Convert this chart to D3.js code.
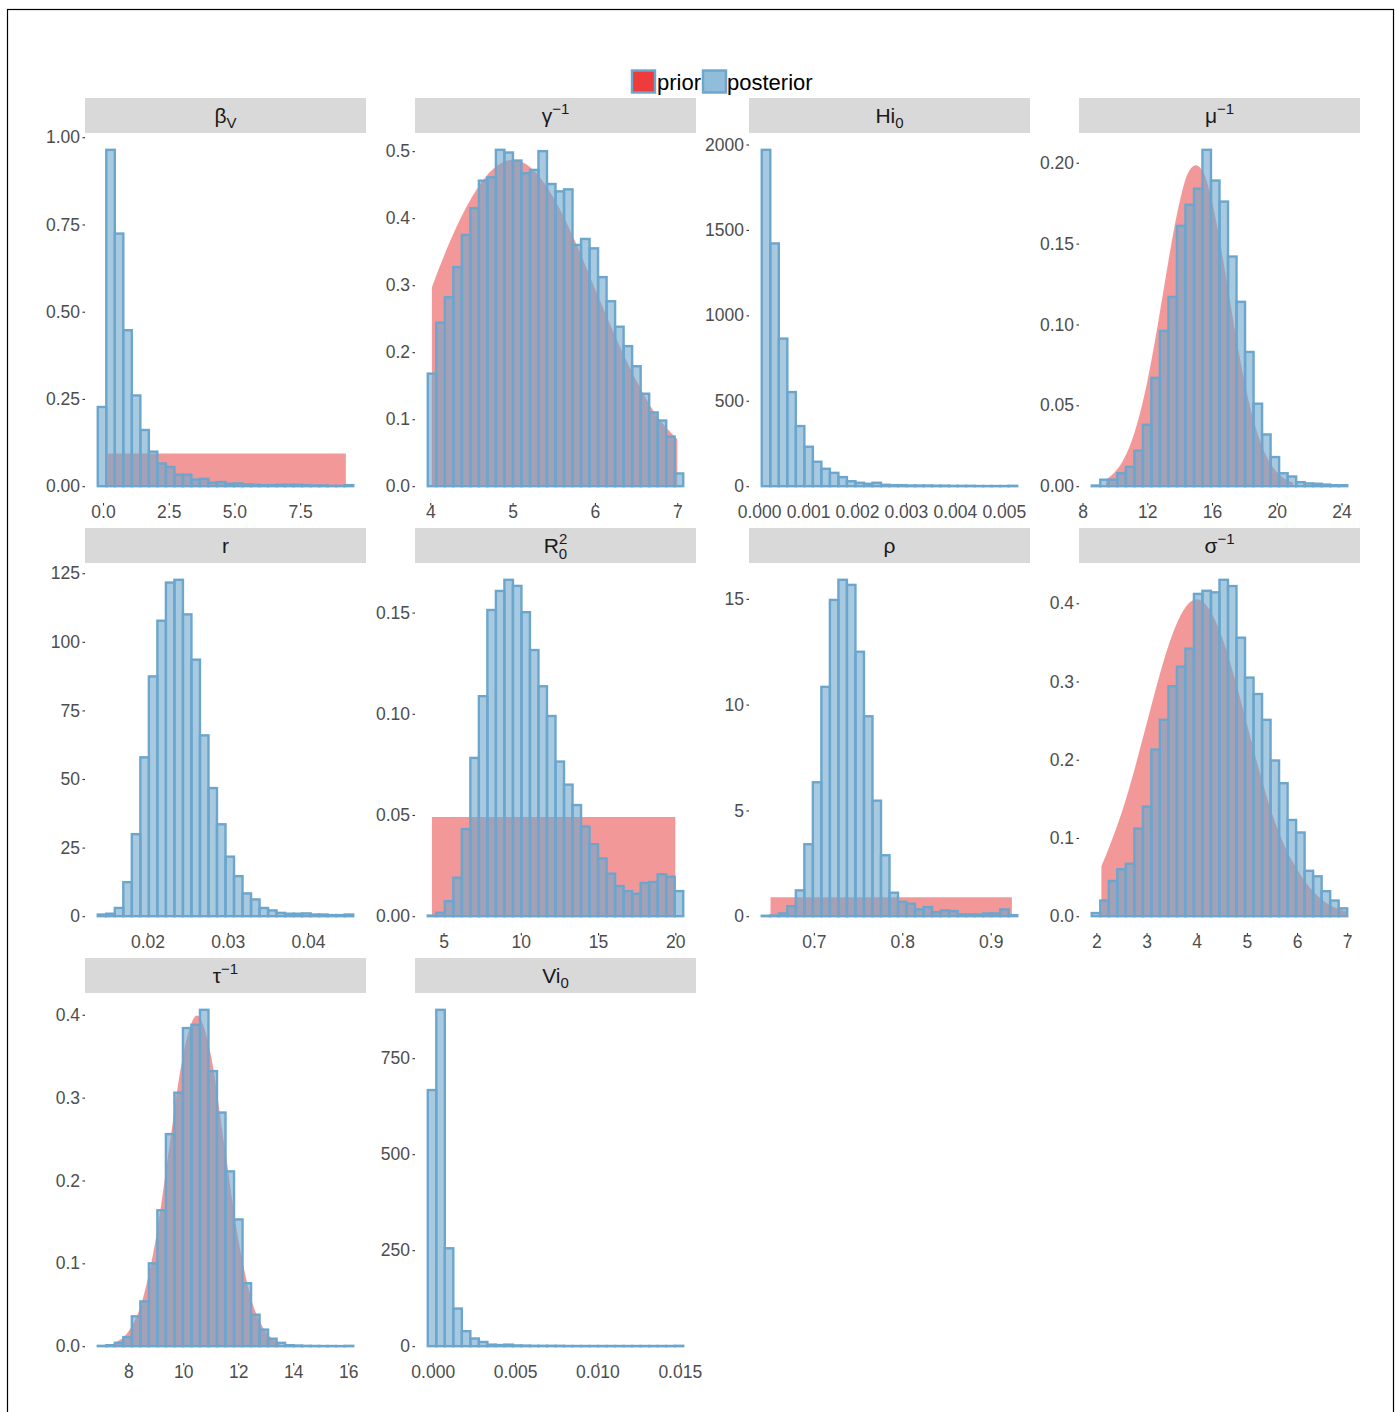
<!DOCTYPE html>
<html lang="en">
  <head>
    <meta charset="UTF-8" />
    <title>Prior vs posterior</title>
    <script src="https://d3js.org/d3.v7.min.js"></script>
    <style>
      body { margin: 0; background: #fff; }
      text { font-family: "Liberation Sans", Arial, sans-serif; }
    </style>
  </head>
  <body>
    <div id="chart"></div>

    <script>
      // ---- posterior histograms (density per bin, 30 bins each) ----
      const betaV_start = -0.2, betaV_width = 0.324;
      const betaV_bins = [0.227, 0.964, 0.724, 0.447, 0.26, 0.161, 0.099, 0.065, 0.055, 0.033,
        0.033, 0.019, 0.021, 0.01, 0.012, 0.007, 0.008, 0.005, 0.004, 0.003,
        0.003, 0.004, 0.004, 0.004, 0.003, 0.002, 0.002, 0.001, 0.001, 0.003];

      const gammaInv_start = 3.97, gammaInv_width = 0.1034;
      const gammaInv_bins = [0.168, 0.244, 0.282, 0.327, 0.375, 0.415, 0.456, 0.461, 0.502, 0.498,
        0.486, 0.467, 0.472, 0.5, 0.451, 0.44, 0.443, 0.36, 0.369, 0.355,
        0.312, 0.276, 0.238, 0.209, 0.179, 0.138, 0.11, 0.098, 0.074, 0.019];

      const Hi0_start = 0.000055, Hi0_width = 0.000174;
      const Hi0_bins = [1969, 1421, 864, 551, 352, 231, 143, 102, 78, 53,
        29, 20, 14, 20, 8, 6, 6, 4, 4, 4,
        3, 3, 2, 2, 2, 1, 1, 1, 1, 2];

      const muInv_start = 8.57, muInv_width = 0.526;
      const muInv_bins = [0.0004, 0.004, 0.004, 0.008, 0.012, 0.022, 0.038, 0.067, 0.096, 0.117,
        0.161, 0.174, 0.184, 0.208, 0.189, 0.176, 0.142, 0.114, 0.083, 0.051,
        0.032, 0.018, 0.008, 0.006, 0.0025, 0.0017, 0.0015, 0.001, 0.0006, 0.0006];

      const r_start = 0.0138, r_width = 0.001061;
      const r_bins = [0.6, 0.9, 3, 12.4, 29.9, 57.9, 87.4, 107.7, 121.6, 122.6,
        110, 93.5, 65.9, 46.7, 33.5, 21.7, 14.6, 8.3, 6.1, 3,
        2.1, 1.2, 0.9, 0.9, 1, 0.6, 0.6, 0.4, 0.4, 0.6];

      const R0sq_start = 3.98, R0sq_width = 0.551;
      const R0sq_bins = [0.0003, 0.0017, 0.0074, 0.019, 0.043, 0.0782, 0.1087, 0.1513, 0.1607, 0.1662,
        0.1632, 0.1502, 0.1315, 0.1136, 0.0989, 0.0764, 0.065, 0.0549, 0.0443, 0.0356,
        0.0285, 0.021, 0.0149, 0.0124, 0.0111, 0.0164, 0.0169, 0.0207, 0.0195, 0.0124];

      const rho_start = 0.6411, rho_width = 0.00963;
      const rho_bins = [0.02, 0.03, 0.13, 0.47, 1.22, 3.4, 6.33, 10.84, 14.95, 15.9,
        15.66, 12.5, 9.45, 5.46, 2.88, 1.11, 0.68, 0.59, 0.32, 0.43,
        0.19, 0.27, 0.24, 0.08, 0.08, 0.08, 0.13, 0.13, 0.32, 0.05];

      const sigmaInv_start = 1.908, sigmaInv_width = 0.1697;
      const sigmaInv_bins = [0.004, 0.02, 0.045, 0.06, 0.067, 0.112, 0.14, 0.213, 0.251, 0.294,
        0.319, 0.342, 0.412, 0.416, 0.414, 0.43, 0.422, 0.356, 0.305, 0.284,
        0.251, 0.199, 0.17, 0.123, 0.107, 0.058, 0.051, 0.032, 0.02, 0.01];

      const tauInv_start = 6.89, tauInv_width = 0.3097;
      const tauInv_bins = [0.0004, 0.0012, 0.004, 0.011, 0.036, 0.054, 0.1, 0.164, 0.256, 0.306,
        0.384, 0.388, 0.406, 0.332, 0.282, 0.211, 0.153, 0.076, 0.038, 0.02,
        0.009, 0.004, 0.0012, 0.0008, 0.0004, 0.0003, 0.0002, 0.0002, 0.0001, 0.0004];

      const Vi0_start = -0.0003, Vi0_width = 0.000517;
      const Vi0_bins = [667, 876, 255, 98, 39, 20, 11, 4, 3, 4,
        2, 1.5, 1, 1, 1, 1, 0.5, 0.5, 0.5, 0.5,
        0.5, 0.5, 0.5, 0.5, 0.5, 0.5, 0.5, 0.5, 0.5, 1];

      // ---- prior densities (x, density) ----
      const betaV_priorX = [0.18, 9.24];
      const betaV_priorY = [0.094, 0.094];
      const gammaInv_priorX = [4.02, 4.25, 4.5, 4.75, 5.0, 5.25, 5.5, 5.75, 6.0, 6.25, 6.5, 6.75, 7.0];
      const gammaInv_priorY = [0.297, 0.368, 0.43, 0.472, 0.487, 0.472, 0.43, 0.368, 0.295, 0.223, 0.158, 0.105, 0.07];
      const muInv_priorX = [9.45, 10, 10.5, 11, 11.5, 12, 12.5, 13, 13.5, 14, 14.5, 15, 15.5, 16, 16.5, 17, 17.5, 18, 18.5, 19, 19.5, 20, 20.5, 21];
      const muInv_priorY = [0.004, 0.0088, 0.0159, 0.027, 0.0432, 0.0648, 0.0913, 0.121, 0.1506, 0.176, 0.1933, 0.1985, 0.1933, 0.176, 0.1506, 0.121, 0.0913, 0.0648, 0.0432, 0.027, 0.0159, 0.0088, 0.0046, 0.0022];
      const R0sq_priorX = [4.25, 20.0];
      const R0sq_priorY = [0.049, 0.049];
      const rho_priorX = [0.651, 0.924];
      const rho_priorY = [0.9, 0.9];
      const sigmaInv_priorX = [2.1, 2.25, 2.5, 2.75, 3.0, 3.25, 3.5, 3.75, 4.0, 4.25, 4.5, 4.75, 5.0, 5.25, 5.5, 5.75, 6.0, 6.25, 6.5, 6.75, 7.0];
      const sigmaInv_priorY = [0.064, 0.0876, 0.1315, 0.1854, 0.2456, 0.3057, 0.3574, 0.3924, 0.405, 0.3924, 0.3574, 0.3057, 0.2456, 0.1854, 0.1315, 0.09, 0.06, 0.037, 0.021, 0.011, 0.006];
      const tauInv_priorX = [7.5, 8, 8.5, 9, 9.5, 10, 10.5, 11, 11.5, 12, 12.5, 13, 13.5];
      const tauInv_priorY = [0.0044, 0.0175, 0.054, 0.1295, 0.242, 0.352, 0.399, 0.352, 0.242, 0.1295, 0.054, 0.0175, 0.0044];

      // ---- ticks ----
      const betaV_xTicks = [0, 2.5, 5, 7.5], betaV_yTicks = [0, 0.25, 0.5, 0.75, 1];
      const gammaInv_xTicks = [4, 5, 6, 7], gammaInv_yTicks = [0, 0.1, 0.2, 0.3, 0.4, 0.5];
      const Hi0_xTicks = [0, 0.001, 0.002, 0.003, 0.004, 0.005], Hi0_yTicks = [0, 500, 1000, 1500, 2000];
      const muInv_xTicks = [8, 12, 16, 20, 24], muInv_yTicks = [0, 0.05, 0.1, 0.15, 0.2];
      const r_xTicks = [0.02, 0.03, 0.04], r_yTicks = [0, 25, 50, 75, 100, 125];
      const R0sq_xTicks = [5, 10, 15, 20], R0sq_yTicks = [0, 0.05, 0.1, 0.15];
      const rho_xTicks = [0.7, 0.8, 0.9], rho_yTicks = [0, 5, 10, 15];
      const sigmaInv_xTicks = [2, 3, 4, 5, 6, 7], sigmaInv_yTicks = [0, 0.1, 0.2, 0.3, 0.4];
      const tauInv_xTicks = [8, 10, 12, 14, 16], tauInv_yTicks = [0, 0.1, 0.2, 0.3, 0.4];
      const Vi0_xTicks = [0, 0.005, 0.01, 0.015], Vi0_yTicks = [0, 250, 500, 750];

      // strip titles: [text, "sup" | "sub" | ""]
      const titles = [
        [["β", ""], ["V", "sub"]],
        [["γ", ""], ["−1", "sup"]],
        [["Hi", ""], ["0", "sub"]],
        [["μ", ""], ["−1", "sup"]],
        [["r", ""]],
        [["R", ""], ["2", "sup"], ["0", "subback"]],
        [["ρ", ""]],
        [["σ", ""], ["−1", "sup"]],
        [["τ", ""], ["−1", "sup"]],
        [["Vi", ""], ["0", "sub"]],
      ];

      const panels = [
        { start: betaV_start, width: betaV_width, bins: betaV_bins, px: betaV_priorX, py: betaV_priorY, xt: betaV_xTicks, yt: betaV_yTicks, xf: ".1f", yf: ".2f" },
        { start: gammaInv_start, width: gammaInv_width, bins: gammaInv_bins, px: gammaInv_priorX, py: gammaInv_priorY, xt: gammaInv_xTicks, yt: gammaInv_yTicks, xf: "d", yf: ".1f" },
        { start: Hi0_start, width: Hi0_width, bins: Hi0_bins, px: [], py: [], xt: Hi0_xTicks, yt: Hi0_yTicks, xf: ".3f", yf: "d" },
        { start: muInv_start, width: muInv_width, bins: muInv_bins, px: muInv_priorX, py: muInv_priorY, xt: muInv_xTicks, yt: muInv_yTicks, xf: "d", yf: ".2f" },
        { start: r_start, width: r_width, bins: r_bins, px: [], py: [], xt: r_xTicks, yt: r_yTicks, xf: ".2f", yf: "d" },
        { start: R0sq_start, width: R0sq_width, bins: R0sq_bins, px: R0sq_priorX, py: R0sq_priorY, xt: R0sq_xTicks, yt: R0sq_yTicks, xf: "d", yf: ".2f" },
        { start: rho_start, width: rho_width, bins: rho_bins, px: rho_priorX, py: rho_priorY, xt: rho_xTicks, yt: rho_yTicks, xf: ".1f", yf: "d" },
        { start: sigmaInv_start, width: sigmaInv_width, bins: sigmaInv_bins, px: sigmaInv_priorX, py: sigmaInv_priorY, xt: sigmaInv_xTicks, yt: sigmaInv_yTicks, xf: "d", yf: ".1f" },
        { start: tauInv_start, width: tauInv_width, bins: tauInv_bins, px: tauInv_priorX, py: tauInv_priorY, xt: tauInv_xTicks, yt: tauInv_yTicks, xf: "d", yf: ".1f" },
        { start: Vi0_start, width: Vi0_width, bins: Vi0_bins, px: [], py: [], xt: Vi0_xTicks, yt: Vi0_yTicks, xf: ".3f", yf: "d" },
      ];

      // ---- layout ----
      const W = 1395, H = 1412;
      const colX = [85, 415, 749, 1079];
      const rowY = [98, 528, 958];
      const panelW = 281, stripH = 35, plotH = 370;

      const priorCol = "#E41A1C", postCol = "#6CA6CD";

      const svg = d3
        .select("#chart")
        .append("svg")
        .attr("width", W)
        .attr("height", H);

      svg.append("rect").attr("width", W).attr("height", H).attr("fill", "#fff");
      svg
        .append("rect")
        .attr("x", 7.5)
        .attr("y", 9.5)
        .attr("width", 1386)
        .attr("height", 1430)
        .attr("fill", "none")
        .attr("stroke", "#000")
        .attr("stroke-width", 1.2);

      // legend
      const legend = svg.append("g");
      legend.append("rect").attr("x", 632).attr("y", 70.5).attr("width", 23).attr("height", 22)
        .attr("fill", "#EE3B3B").attr("stroke", postCol).attr("stroke-width", 2.4);
      legend.append("text").attr("x", 657).attr("y", 89.5).attr("font-size", 22).attr("fill", "#000").text("prior");
      legend.append("rect").attr("x", 703).attr("y", 70.5).attr("width", 23).attr("height", 22)
        .attr("fill", postCol).attr("fill-opacity", 0.75).attr("stroke", postCol).attr("stroke-width", 2.4);
      legend.append("text").attr("x", 727).attr("y", 89.5).attr("font-size", 22).attr("fill", "#000").text("posterior");

      panels.forEach((p, i) => {
        const x0 = colX[i % 4];
        const sTop = rowY[Math.floor(i / 4)];
        const top = sTop + stripH;
        const bottom = top + plotH;
        const n = p.bins.length;

        // ggplot-style 5% expansion around the data range
        const xs = [p.start, p.start + n * p.width].concat(p.px);
        const xmin = d3.min(xs), xmax = d3.max(xs), xspan = xmax - xmin;
        const x = d3
          .scaleLinear()
          .domain([xmin - 0.05 * xspan, xmax + 0.05 * xspan])
          .range([x0, x0 + panelW]);
        const ymax = d3.max(p.bins.concat(p.py));
        const y = d3
          .scaleLinear()
          .domain([-0.05 * ymax, 1.05 * ymax])
          .range([bottom, top]);

        const g = svg.append("g");

        // strip
        g.append("rect")
          .attr("x", x0)
          .attr("y", sTop)
          .attr("width", panelW)
          .attr("height", stripH)
          .attr("fill", "#d9d9d9");
        const title = g
          .append("text")
          .attr("x", x0 + panelW / 2)
          .attr("y", sTop + 25)
          .attr("text-anchor", "middle")
          .attr("font-size", 21)
          .attr("fill", "#1a1a1a");
        titles[i].forEach(([t, kind]) => {
          const ts = title.append("tspan").text(t);
          if (kind === "sup") ts.attr("font-size", 15).attr("dy", -9);
          if (kind === "sub") ts.attr("font-size", 15).attr("dy", 5);
          if (kind === "subback") ts.attr("font-size", 15).attr("dx", -8.4).attr("dy", 15);
        });

        // grid (white, only visible through the translucent fills)
        const minor = (ticks, sc) => {
          const step = ticks[1] - ticks[0];
          const out = [];
          for (let v = ticks[0] - step / 2; v <= sc.domain()[1]; v += step)
            if (v >= sc.domain()[0]) out.push(v);
          return out;
        };
        const grid = g.append("g").attr("stroke", "#fff");
        grid.selectAll(".ymaj").data(p.yt).join("line")
          .attr("x1", x0).attr("x2", x0 + panelW)
          .attr("y1", (d) => y(d)).attr("y2", (d) => y(d)).attr("stroke-width", 1.1);
        grid.selectAll(".ymin").data(minor(p.yt, y)).join("line")
          .attr("x1", x0).attr("x2", x0 + panelW)
          .attr("y1", (d) => y(d)).attr("y2", (d) => y(d)).attr("stroke-width", 0.6);
        grid.selectAll(".xmaj").data(p.xt).join("line")
          .attr("y1", top).attr("y2", bottom)
          .attr("x1", (d) => x(d)).attr("x2", (d) => x(d)).attr("stroke-width", 1.1);
        grid.selectAll(".xmin").data(minor(p.xt, x)).join("line")
          .attr("y1", top).attr("y2", bottom)
          .attr("x1", (d) => x(d)).attr("x2", (d) => x(d)).attr("stroke-width", 0.6);

        // prior area
        if (p.px.length) {
          const pts = p.px.map((v, k) => [v, p.py[k]]);
          const area = d3
            .area()
            .x((d) => x(d[0]))
            .y0(y(0))
            .y1((d) => y(d[1]))
            .curve(pts.length > 2 ? d3.curveMonotoneX : d3.curveLinear);
          g.append("path")
            .attr("d", area(pts))
            .attr("fill", priorCol)
            .attr("fill-opacity", 0.45);
        }

        // posterior histogram
        g.append("g")
          .selectAll("rect")
          .data(p.bins)
          .join("rect")
          .attr("x", (d, k) => x(p.start + k * p.width))
          .attr("width", (d, k) => x(p.start + (k + 1) * p.width) - x(p.start + k * p.width))
          .attr("y", (d) => y(d))
          .attr("height", (d) => y(0) - y(d))
          .attr("fill", postCol)
          .attr("fill-opacity", 0.6)
          .attr("stroke", postCol)
          .attr("stroke-width", 2.4);

        // axes
        const yAxis = g
          .append("g")
          .attr("transform", `translate(${x0},0)`)
          .call(d3.axisLeft(y).tickValues(p.yt).tickFormat(d3.format(p.yf)).tickSize(2.5).tickPadding(2.5));
        const xAxis = g
          .append("g")
          .attr("transform", `translate(0,${bottom})`)
          .call(d3.axisBottom(x).tickValues(p.xt).tickFormat(d3.format(p.xf)).tickSize(2.5).tickPadding(0.5));
        [yAxis, xAxis].forEach((a) => {
          a.select(".domain").remove();
          a.selectAll("line").attr("stroke", "#333").attr("stroke-width", 1.1);
          a.selectAll("text")
            .attr("fill", "#4d4d4d")
            .attr("font-size", 17.5)
            .attr("font-family", '"Liberation Sans", Arial, sans-serif');
        });
      });
    </script>
  </body>
</html>
